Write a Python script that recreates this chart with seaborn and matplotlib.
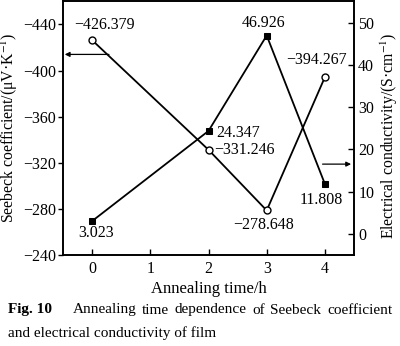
import matplotlib
matplotlib.use("Agg")
import matplotlib.pyplot as plt
import seaborn as sns
import pandas as pd

# Data
time_h = [0, 2, 3, 4]
seebeck = [-426.379, -331.246, -278.648, -394.267]
conductivity = [3.023, 24.347, 46.926, 11.808]
seebeck_ticks = [-440, -400, -360, -320, -280, -240]
cond_ticks = [0, 10, 20, 30, 40, 50]
time_ticks = [0, 1, 2, 3, 4]

sns.set_theme(style="ticks")
plt.rcParams["font.family"] = ["Liberation Serif", "DejaVu Serif"]
plt.rcParams["mathtext.fontset"] = "stix"
FS_TICK = 11.5
FS_VAL = 11.5
FS_LABEL = 11.3
FS_CAP = 11

fig = plt.figure(figsize=(4.0, 3.46), dpi=100)
ax = fig.add_axes([0.1575, 0.263, 0.7275, 0.733])
ax2 = ax.twinx()

df_s = pd.DataFrame({"t": time_h, "s": seebeck})
df_c = pd.DataFrame({"t": time_h, "c": conductivity})

sns.lineplot(data=df_s, x="t", y="s", ax=ax, color="black", lw=1.3,
             marker="o", markersize=5, markerfacecolor="white",
             markeredgecolor="black", markeredgewidth=1.0)
sns.lineplot(data=df_c, x="t", y="c", ax=ax2, color="black", lw=1.3,
             marker="s", markersize=4.5, markerfacecolor="black",
             markeredgecolor="black")

ax.set_xlim(-0.5, 4.5)
ax.set_ylim(-240, -460)
ax2.set_ylim(-5, 55)
ax.set_xticks(time_ticks)
ax.set_yticks(seebeck_ticks)
ax2.set_yticks(cond_ticks)

ax.tick_params(axis="x", direction="in", length=4, width=1, pad=4, labelsize=FS_TICK, colors="black")
ax.tick_params(axis="y", direction="out", length=3.5, width=1, pad=1.5, labelsize=FS_TICK, colors="black")
ax2.tick_params(axis="y", direction="in", length=4, width=1, pad=3, labelsize=FS_TICK, colors="black")
for a in (ax, ax2):
    for sp in a.spines.values():
        sp.set_visible(True)
        sp.set_color("black")
        sp.set_linewidth(1.2)

ax.set_xlabel("Annealing time/h", fontsize=12, color="black")
ax.set_ylabel("Seebeck coefficient/(μV·K$^{-1}$)", fontsize=FS_LABEL, color="black")
ax2.set_ylabel("Electrical conductivity/(S·cm$^{-1}$)", fontsize=FS_LABEL, color="black",
               rotation=90)
ax.xaxis.label.set_va("center")
ax.xaxis.set_label_coords(0.5, -0.134)
ax.yaxis.label.set_va("center")
ax.yaxis.set_label_coords(-0.185, 0.5)
ax2.yaxis.label.set_va("center")
ax2.yaxis.set_label_coords(1.12, 0.47)

# Value labels
s_offsets = [(12, 15, "center"), (6, 0, "left"), (-3, -15, "center"), (-8, 17, "center")]
for t, v, (dx, dy, ha) in zip(time_h, seebeck, s_offsets):
    ax.annotate(f"{v:.3f}".replace("-", "\u2212"), (t, v), xytext=(dx * 0.72, dy * 0.72),
                textcoords="offset points", ha=ha, va="center", fontsize=FS_VAL, color="black")
c_offsets = [(4, -12, "center"), (8, -2, "left"), (-3, 13, "center"), (-4, -16, "center")]
for t, v, (dx, dy, ha) in zip(time_h, conductivity, c_offsets):
    ax2.annotate(f"{v:.3f}", (t, v), xytext=(dx * 0.72, dy * 0.72),
                 textcoords="offset points", ha=ha, va="center", fontsize=FS_VAL, color="black")

# Arrows pointing to each series' axis
ax.annotate("", xy=(-0.47, -414), xytext=(0.29, -414),
            arrowprops=dict(arrowstyle="-|>", color="black", lw=0.9, mutation_scale=7,
                            shrinkA=0, shrinkB=0))
ax2.annotate("", xy=(4.45, 16.5), xytext=(3.96, 16.5),
             arrowprops=dict(arrowstyle="-|>", color="black", lw=0.9, mutation_scale=7,
                             shrinkA=0, shrinkB=0))

# Caption (justified first line)
fig.canvas.draw()
renderer = fig.canvas.get_renderer()
y1 = 1 - 310 / 346
y2 = 1 - 333 / 346
x_left, x_right = 8 / 400, 392 / 400
fig.text(x_left, y1, "Fig. 10", fontsize=FS_CAP, fontweight="bold", va="center", color="black")
words = "Annealing time dependence of Seebeck coefficient".split()
start = 73 / 400
arts = [fig.text(0, y1, w, fontsize=FS_CAP, va="center", color="black") for w in words]
widths = [a.get_window_extent(renderer).width / fig.bbox.width for a in arts]
gap = (x_right - start - sum(widths)) / (len(words) - 1)
x = start
for a, w in zip(arts, widths):
    a.set_x(x)
    x += w + gap
fig.text(x_left, y2, "and electrical conductivity of film", fontsize=FS_CAP, va="center", color="black")

fig.savefig("out.png", dpi=100)
